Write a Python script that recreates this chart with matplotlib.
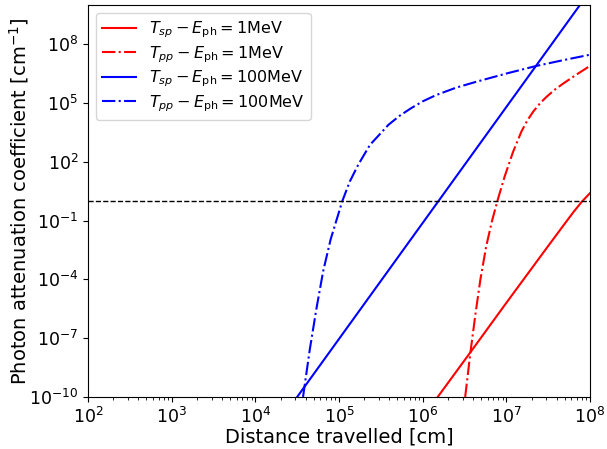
import numpy as np
import matplotlib
matplotlib.use("Agg")
import matplotlib.pyplot as plt

# log10 of distance [cm] and log10 of attenuation coefficient [cm^-1]
tsp_1mev_logx = [6.18, 6.571, 7.0, 7.5, 7.7, 7.8, 7.9, 8.0]
tsp_1mev_logy = [-10.0, -7.72, -5.2, -2.3, -1.15, -0.58, -0.05, 0.4]

tpp_1mev_logx = [6.508, 6.571, 6.63, 6.69, 6.76, 6.83, 6.9, 6.98, 7.08, 7.18, 7.25, 7.32, 7.40, 7.48, 7.58, 7.68, 7.85, 8.0]
tpp_1mev_logy = [-10.0, -7.72, -5.8, -4.0, -2.3, -1.0, 0.1, 1.25, 2.5, 3.54, 4.1, 4.55, 4.97, 5.31, 5.68, 5.99, 6.48, 6.89]

tsp_100mev_logx = [4.50, 7.88]
tsp_100mev_logy = [-10.0, 10.0]

tpp_100mev_logx = [4.57, 4.65, 4.73, 4.81, 4.90, 5.04, 5.13, 5.23, 5.37, 5.59, 5.72, 5.85, 6.0, 6.16, 6.4, 6.64, 7.0, 7.36, 7.7, 8.0]
tpp_100mev_logy = [-10.0, -7.6, -5.5, -3.6, -1.96, 0.0, 1.0, 1.85, 2.86, 3.88, 4.33, 4.7, 5.08, 5.4, 5.78, 6.08, 6.5, 6.89, 7.2, 7.46]

threshold = 1.0

labels = [r"$T_{sp} - E_{\rm ph} = 1$MeV", r"$T_{pp} - E_{\rm ph} = 1$MeV",
          r"$T_{sp} - E_{\rm ph} = 100$MeV", r"$T_{pp} - E_{\rm ph} = 100$MeV"]

fig = plt.figure(figsize=(6.07, 4.49), dpi=100)
ax = fig.add_axes([0.145, 0.116, 0.827, 0.873])

def p(lx, ly):
    return 10.0 ** np.array(lx), 10.0 ** np.array(ly)

ax.plot(*p(tsp_1mev_logx, tsp_1mev_logy), color="red", ls="-", lw=1.5, label=labels[0])
ax.plot(*p(tpp_1mev_logx, tpp_1mev_logy), color="red", ls="-.", lw=1.5, label=labels[1])
ax.plot(*p(tsp_100mev_logx, tsp_100mev_logy), color="blue", ls="-", lw=1.5, label=labels[2])
ax.plot(*p(tpp_100mev_logx, tpp_100mev_logy), color="blue", ls="-.", lw=1.5, label=labels[3])
ax.axhline(threshold, color="black", ls="--", lw=1.0)

ax.set_xscale("log")
ax.set_yscale("log")
ax.set_xlim(1e2, 1e8)
ax.set_ylim(1e-10, 1e10)
ax.set_yticks([1e-10, 1e-7, 1e-4, 1e-1, 1e2, 1e5, 1e8])
ax.tick_params(labelsize=12.5)
ax.set_xlabel("Distance travelled [cm]", fontsize=14, labelpad=0.5)
ax.set_ylabel(r"Photon attenuation coefficient [cm$^{-1}$]", fontsize=14, labelpad=-1)
ax.legend(loc="upper left", fontsize=11.5, labelspacing=0.25, handlelength=2.1)

fig.savefig("out.png", dpi=100)
